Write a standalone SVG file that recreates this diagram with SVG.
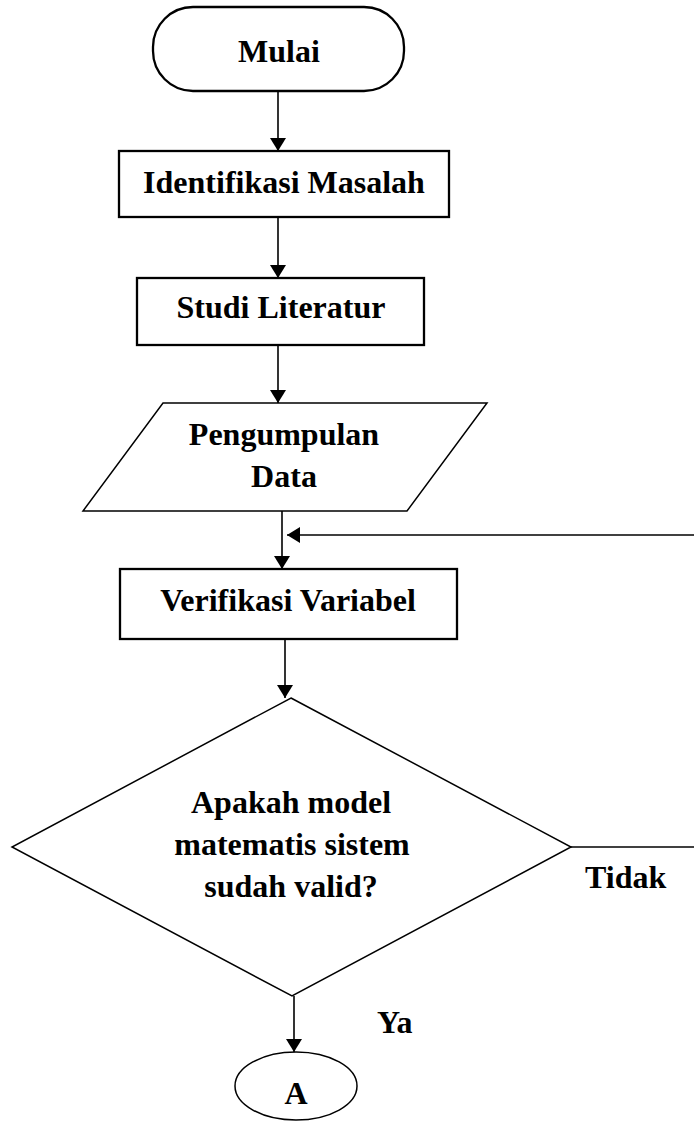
<svg xmlns="http://www.w3.org/2000/svg" width="694" height="1124" viewBox="0 0 694 1124">
<style>
.shape{fill:#fff;stroke:#000;stroke-width:2.3}
.thin{fill:#fff;stroke:#000;stroke-width:1.5}
.conn{fill:none;stroke:#000;stroke-width:1.6}
text{font-family:"Liberation Serif","Times New Roman",serif;font-weight:bold;font-size:32px;fill:#000}
.c{text-anchor:middle}
</style>
<defs>
<marker id="ah" markerUnits="userSpaceOnUse" markerWidth="16" markerHeight="16" refX="13" refY="8" orient="auto">
<path d="M0,0 L13,8 L0,16 z" fill="#000"/>
</marker>
</defs>
<rect width="694" height="1124" fill="#fff"/>
<g id="connectors">
<line class="conn" x1="278" y1="91" x2="278" y2="151" marker-end="url(#ah)"/>
<line class="conn" x1="278" y1="217" x2="278" y2="278" marker-end="url(#ah)"/>
<line class="conn" x1="278" y1="345" x2="278" y2="403" marker-end="url(#ah)"/>
<line class="conn" x1="282" y1="511" x2="282" y2="569" marker-end="url(#ah)"/>
<line class="conn" x1="694" y1="535" x2="287" y2="535" marker-end="url(#ah)"/>
<line class="conn" x1="285" y1="639" x2="285" y2="698" marker-end="url(#ah)"/>
<line class="conn" x1="294" y1="996" x2="294" y2="1052" marker-end="url(#ah)"/>
<line class="conn" x1="571" y1="847" x2="694" y2="847"/>
</g>
<g id="mulai">
<rect class="shape" x="153" y="7" width="251" height="84" rx="40" ry="40"/>
<text class="c" x="279" y="62">Mulai</text>
</g>
<g id="identifikasi">
<rect class="shape" x="119" y="151" width="330" height="66"/>
<text class="c" x="284" y="193">Identifikasi Masalah</text>
</g>
<g id="studi">
<rect class="shape" x="137" y="278" width="287" height="67"/>
<text class="c" x="281" y="318">Studi Literatur</text>
</g>
<g id="pengumpulan">
<polygon class="thin" points="163,403 487,403 407,511 83,511"/>
<text class="c" x="284" y="445">Pengumpulan</text>
<text class="c" x="284" y="487">Data</text>
</g>
<g id="verifikasi">
<rect class="shape" x="120" y="569" width="337" height="70"/>
<text class="c" x="288" y="611">Verifikasi Variabel</text>
</g>
<g id="keputusan">
<polygon class="thin" points="291,698 571,847 292,996 12,847"/>
<text class="c" x="291" y="813">Apakah model</text>
<text class="c" x="292" y="855">matematis sistem</text>
<text class="c" x="291" y="897">sudah valid?</text>
</g>
<g id="label-tidak">
<text x="585" y="888">Tidak</text>
</g>
<g id="label-ya">
<text x="377" y="1033">Ya</text>
</g>
<g id="konektor-a">
<ellipse class="thin" cx="296" cy="1086" rx="61" ry="34"/>
<text class="c" x="296" y="1104">A</text>
</g>
</svg>
